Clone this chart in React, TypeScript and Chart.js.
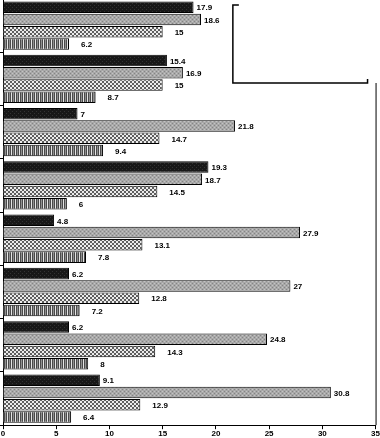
import React, { useEffect, useRef } from "react";
import { Chart, registerables } from "chart.js";

Chart.register(...registerables);

const categories = ["1", "2", "3", "4", "5", "6", "7", "8"];
const seriesA = [17.9, 15.4, 7, 19.3, 4.8, 6.2, 6.2, 9.1];
const seriesB = [18.6, 16.9, 21.8, 18.7, 27.9, 27, 24.8, 30.8];
const seriesC = [15, 15, 14.7, 14.5, 13.1, 12.8, 14.3, 12.9];
const seriesD = [6.2, 8.7, 9.4, 6, 7.8, 7.2, 8, 6.4];
const seriesNames = ["A", "B", "C", "D"];
const xMin = 0;
const xMax = 35;
const xStep = 5;

function makePattern(size: number, draw: (ctx: CanvasRenderingContext2D) => void) {
  const c = document.createElement("canvas");
  c.width = size;
  c.height = size;
  const ctx = c.getContext("2d")!;
  draw(ctx);
  return ctx.createPattern(c, "repeat")!;
}

export default function App() {
  const ref = useRef<HTMLCanvasElement>(null);
  useEffect(() => {
    const darkP = makePattern(4, (g) => {
      g.fillStyle = "#181818";
      g.fillRect(0, 0, 4, 4);
      g.fillStyle = "#333";
      g.fillRect(0, 0, 1, 1);
      g.fillRect(2, 2, 1, 1);
    });
    const lightP = makePattern(4, (g) => {
      g.fillStyle = "#a8a8a8";
      g.fillRect(0, 0, 4, 4);
      g.fillStyle = "#858585";
      g.fillRect(0, 0, 1, 1);
      g.fillRect(2, 2, 1, 1);
      g.fillStyle = "#c4c4c4";
      g.fillRect(2, 0, 1, 1);
      g.fillRect(0, 2, 1, 1);
    });
    const checkP = makePattern(4, (g) => {
      g.fillStyle = "#ececec";
      g.fillRect(0, 0, 4, 4);
      g.fillStyle = "#5e5e5e";
      g.fillRect(0, 0, 2, 2);
      g.fillRect(2, 2, 2, 2);
    });
    const stripeP = makePattern(4, (g) => {
      g.fillStyle = "#e4e4e4";
      g.fillRect(0, 0, 4, 4);
      g.fillStyle = "#4a4a4a";
      g.fillRect(0, 0, 1, 4);
      g.fillRect(2, 0, 1, 4);
      g.fillStyle = "#909090";
      g.fillRect(1, 0, 1, 4);
    });

    const labelOffsets = [3, 3, 12, 12];

    const labelPlugin = {
      id: "barLabels",
      afterDatasetsDraw(chart: any) {
        const ctx = chart.ctx;
        ctx.save();
        ctx.font = "bold 8px 'Liberation Sans', Arial, sans-serif";
        ctx.fillStyle = "#000";
        ctx.textAlign = "left";
        ctx.textBaseline = "middle";
        chart.data.datasets.forEach((ds: any, di: number) => {
          const meta = chart.getDatasetMeta(di);
          meta.data.forEach((el: any, i: number) => {
            ctx.fillText(String(ds.data[i]), el.x + labelOffsets[di], el.y + 1);
          });
        });
        ctx.restore();
      },
    };

    const framePlugin = {
      id: "frame",
      afterDraw(chart: any) {
        const { ctx, chartArea } = chart;
        ctx.save();
        ctx.strokeStyle = "#000";
        ctx.lineWidth = 1;
        ctx.beginPath();
        ctx.moveTo(chartArea.right + 0.5, chartArea.top);
        ctx.lineTo(chartArea.right + 0.5, chartArea.bottom);
        ctx.stroke();
        // legend box (contents blank)
        const lx = chartArea.left + (chartArea.right - chartArea.left) * 0.617;
        const ly = chartArea.top + 6;
        const lr = chartArea.right - 8;
        const lb = chartArea.top + 84;
        ctx.fillStyle = "#fff";
        ctx.fillRect(lx, chartArea.top - 2, chartArea.right + 4 - lx, lb - chartArea.top + 2);
        ctx.lineWidth = 1.5;
        ctx.beginPath();
        ctx.moveTo(lx + 6, ly);
        ctx.lineTo(lx, ly);
        ctx.lineTo(lx, lb);
        ctx.lineTo(lr, lb);
        ctx.lineTo(lr, lb - 4);
        ctx.stroke();
        ctx.restore();
      },
    };

    const chart = new Chart(ref.current!, {
      type: "bar",
      data: {
        labels: categories,
        datasets: [
          { label: seriesNames[0], data: seriesA, backgroundColor: darkP as any },
          { label: seriesNames[1], data: seriesB, backgroundColor: lightP as any },
          { label: seriesNames[2], data: seriesC, backgroundColor: checkP as any },
          { label: seriesNames[3], data: seriesD, backgroundColor: stripeP as any },
        ].map((d) => ({
          ...d,
          borderColor: "#000",
          borderWidth: 1,
          categoryPercentage: 0.92,
          barPercentage: 0.94,
        })),
      },
      options: {
        indexAxis: "y",
        animation: false,
        responsive: false,
        maintainAspectRatio: false,
        layout: { padding: { left: 0, right: 0, top: 0, bottom: 0 } },
        plugins: {
          legend: { display: false },
          tooltip: { enabled: false },
          title: { display: false },
        },
        scales: {
          x: {
            min: xMin,
            max: xMax,
            ticks: {
              stepSize: xStep,
              color: "#000",
              padding: 0,
              font: { family: "'Liberation Sans', Arial, sans-serif", size: 8, weight: "bold", lineHeight: 1.1 },
            },
            grid: {
              drawOnChartArea: false,
              tickLength: 4,
              color: "#000",
            },
            border: { color: "#000", width: 1 },
          },
          y: {
            ticks: { display: false },
            grid: {
              drawOnChartArea: false,
              tickLength: 3,
              color: "#000",
              offset: true,
            },
            border: { color: "#000", width: 1 },
          },
        },
      },
      plugins: [labelPlugin, framePlugin],
    } as any);
    return () => chart.destroy();
  }, []);

  return (
    <div style={{ position: "absolute", left: 0, top: -1, width: 380, height: 439, background: "#fff" }}>
      <canvas ref={ref} width={380} height={439} style={{ display: "block", width: 380, height: 439 }} />
    </div>
  );
}
